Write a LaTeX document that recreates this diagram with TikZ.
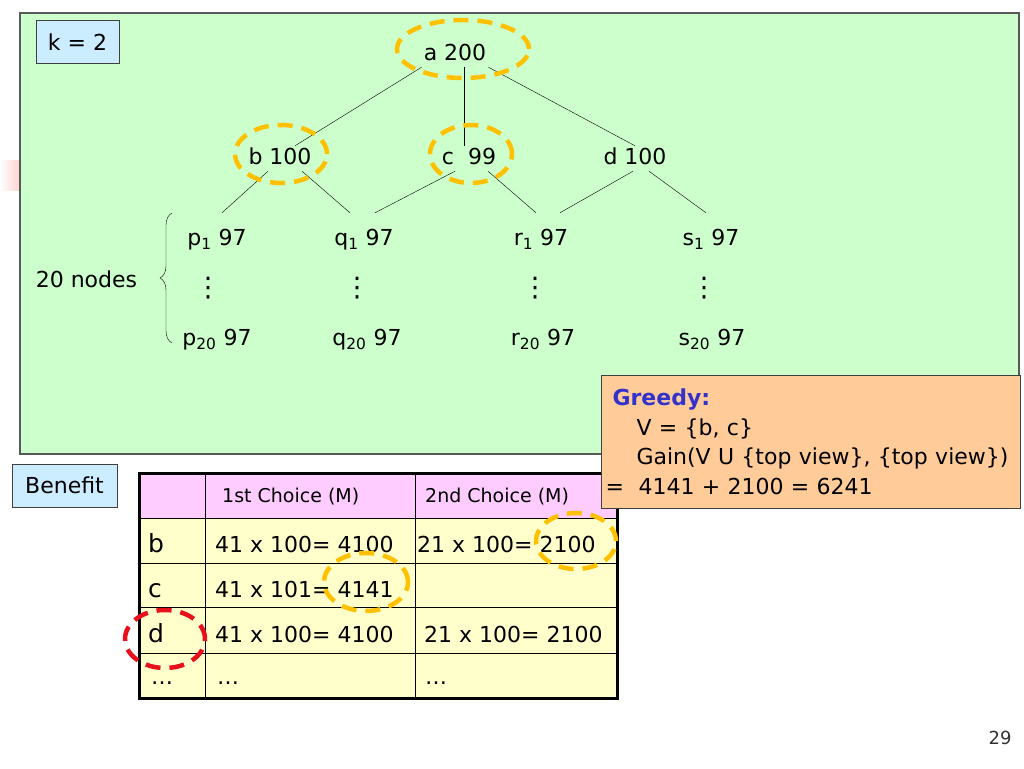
\documentclass[tikz,border=0pt]{standalone}
\usepackage{fontspec}
\setmainfont{DejaVu Sans}
\usetikzlibrary{decorations.pathreplacing}

\definecolor{panelgreen}{HTML}{CCFFCC}
\definecolor{tagblue}{HTML}{CCECFF}
\definecolor{peach}{HTML}{FFCC99}
\definecolor{headpink}{HTML}{FFCCFF}
\definecolor{cellyellow}{HTML}{FFFFCC}
\definecolor{ringgold}{HTML}{FFC000}
\definecolor{ringred}{HTML}{E8101A}
\definecolor{greedyblue}{HTML}{3333CC}

\begin{document}
\begin{tikzpicture}[x=1pt, y=-1pt,
        tree/.style = {anchor=base, inner sep=2pt, text height=16pt, text depth=5pt, font=\fontsize{22}{26}\selectfont},
        leaf/.style = {tree, text height=30pt},
        dotcol/.style = {inner sep=0pt, font=\fontsize{27}{30}\selectfont},
        ring/.style = {draw=ringgold, line width=4.5pt, dash pattern=on 15pt off 9pt},
        redring/.style = {ring, draw=ringred},
        tag/.style = {draw=black!75, fill=tagblue, line width=1pt, inner sep=0pt, font=\fontsize{22}{26}\selectfont},
        cell/.style = {anchor=base west, inner sep=0pt, font=\fontsize{22}{26}\selectfont},
        head/.style = {cell, font=\fontsize{19}{22}\selectfont},
        rowname/.style = {cell, font=\fontsize{25}{28}\selectfont}]
        \useasboundingbox (0,0) rectangle (1024,768);

        % left edge smear and the green panel
        \shade[left color=white, right color=red!18] (0,160) rectangle (20,190);
        \filldraw[fill=panelgreen, draw=black!65, line width=1.2pt] (20,13) rectangle (1019,454);

        \node[tag, minimum width=83pt, minimum height=42pt] at (77.5,42) (k) {k = 2};

        % the lattice
        \node[tree] at (455,60) (a) {a 200};
        \node[tree] at (280,164) (b) {b 100};
        \node[tree] at (469,164) (c) {c\ \ 99};
        \node[tree] at (635,164) (d) {d 100};

        \node[leaf] at (217,245) (p1) {p\textsubscript{1} 97};
        \node[leaf] at (364,245) (q1) {q\textsubscript{1} 97};
        \node[leaf] at (541,245) (r1) {r\textsubscript{1} 97};
        \node[leaf] at (711,245) (s1) {s\textsubscript{1} 97};

        \node[dotcol] at (208,288) (pdots) {⋮};
        \node[dotcol] at (357,288) (qdots) {⋮};
        \node[dotcol] at (535,288) (rdots) {⋮};
        \node[dotcol] at (704,288) (sdots) {⋮};

        \node[tree] at (217,345) (p20) {p\textsubscript{20} 97};
        \node[tree] at (367,345) (q20) {q\textsubscript{20} 97};
        \node[tree] at (543,345) (r20) {r\textsubscript{20} 97};
        \node[tree] at (712,345) (s20) {s\textsubscript{20} 97};

        \node[tree] at (86.5,287) (twenty) {20 nodes};
        \coordinate (bracetop) at (172,213);
        \coordinate (bracebot) at (172,343);
        \draw[decorate, decoration={brace, amplitude=12pt}] (bracebot) -- (bracetop);

        \draw (a.south west) -- ([xshift=15pt]b.north);
        \draw ([xshift=9pt]a.south) -- ([xshift=-5pt]c.north);
        \draw (a.south east) -- (d.north);
        \draw ([xshift=-12pt]b.south) -- ([xshift=5pt]p1.north);
        \draw ([xshift=22pt]b.south) -- ([xshift=-14pt]q1.north);
        \draw ([xshift=-14pt]c.south) -- ([xshift=11pt]q1.north);
        \draw ([xshift=19pt]c.south) -- ([xshift=-5pt]r1.north);
        \draw ([xshift=-2pt]d.south) -- ([xshift=19pt]r1.north);
        \draw ([xshift=14pt]d.south) -- ([xshift=-5pt]s1.north);

        \draw[ring] (463,49) ellipse [x radius=66pt, y radius=29pt];
        \draw[ring] (281,154) ellipse [x radius=46pt, y radius=29pt];
        \draw[ring] (471,154) ellipse [x radius=41pt, y radius=29pt];

        % benefit table
        \node[tag, minimum width=105pt, minimum height=43pt] at (64.5,485.5) (benefit) {Benefit};
        \fill[headpink] (139,473) rectangle (617,518);
        \fill[cellyellow] (139,518) rectangle (617,698);
        \foreach \y in {518,563,607,653}
                \draw[line width=1pt] (139,\y) -- (617,\y);
        \foreach \x in {205,415}
                \draw[line width=1pt] (\x,473) -- (\x,698);
        \draw[line width=3pt] (139,473) rectangle (617,698);

        \node[head] at (222,502) (h1) {1st Choice (M)};
        \node[head] at (425,502) (h2) {2nd Choice (M)};
        \node[rowname] at (148,552) (rb) {b};
        \node[rowname] at (148,597) (rc) {c};
        \node[rowname] at (148,642) (rd) {d};
        \node[cell] at (151,684) (rmore) {…};
        \node[cell] at (215,552) (b1) {41 x 100= 4100};
        \node[cell] at (215,597) (c1) {41 x 101= 4141};
        \node[cell] at (215,642) (d1) {41 x 100= 4100};
        \node[cell] at (217,684) (more1) {…};
        \node[cell] at (417,552) (b2) {21 x 100= 2100};
        \node[cell] at (424,642) (d2) {21 x 100= 2100};
        \node[cell] at (425,684) (more2) {…};

        % greedy note
        \node[draw=black!75, fill=peach, line width=1pt, anchor=north west, inner xsep=0pt,
              minimum width=419pt, minimum height=133pt, text width=411pt, align=left,
              font=\fontsize{22}{29.5}\selectfont] at (601,375) (greedy)
              {\hspace*{7pt}{\bfseries\color{greedyblue}Greedy:}\\
               \hspace*{31pt}V = \{b, c\}\\
               \hspace*{31pt}Gain(V U \{top view\}, \{top view\})\\
               =\ \ 4141 + 2100 = 6241};

        \draw[ring] (576,541) ellipse [x radius=40pt, y radius=28pt];
        \draw[ring] (366,582) ellipse [x radius=42pt, y radius=29pt];
        \draw[redring] (165,639) ellipse [x radius=40pt, y radius=29pt];

        \node[anchor=base, inner sep=0pt, text=black!80, font=\fontsize{18}{20}\selectfont] at (1000,744) (page) {29};
\end{tikzpicture}
\end{document}
